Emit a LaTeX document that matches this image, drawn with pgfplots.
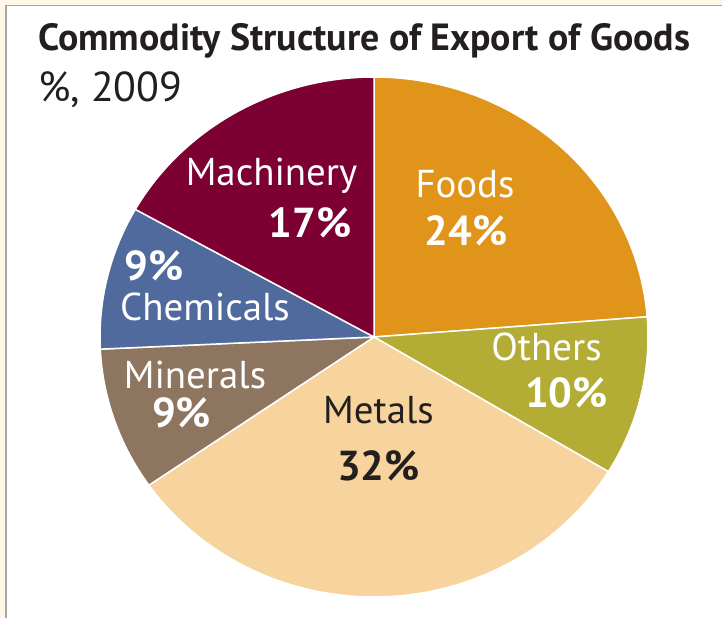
\documentclass[border=0pt]{standalone}
\usepackage{pgfplots}
\usepackage{pgfplotstable}
\pgfplotsset{compat=1.18}
\usepackage{fontspec}
\setmainfont{PT Sans}
\definecolor{cFoods}{HTML}{E0951A}
\definecolor{cOthers}{HTML}{B3AD36}
\definecolor{cMetals}{HTML}{F7D49D}
\definecolor{cMinerals}{HTML}{8D7560}
\definecolor{cChemicals}{HTML}{506A9E}
\definecolor{cMachinery}{HTML}{7D0032}
\definecolor{cream}{HTML}{FFF8E6}
\definecolor{txt}{HTML}{231F20}
\pgfplotstableread{
name value
Foods 24
Others 10
Metals 32
Minerals 9
Chemicals 9
Machinery 17
}\piedata
% cumulative angles (clockwise from 12 o'clock)
\def\pietotal{0}
\pgfplotsforeachungrouped \i in {0,...,5}{%
  \pgfplotstablegetelem{\i}{value}\of{\piedata}%
  \pgfmathsetmacro\pietotal{\pietotal+\pgfplotsretval}%
}
\def\piecum{0}
\pgfplotsforeachungrouped \i in {0,...,5}{%
  \pgfplotstablegetelem{\i}{value}\of{\piedata}%
  \pgfmathsetmacro\tmpS{90-\piecum/\pietotal*360}%
  \pgfmathsetmacro\piecum{\piecum+\pgfplotsretval}%
  \pgfmathsetmacro\tmpE{90-\piecum/\pietotal*360}%
  \expandafter\let\csname pieS\i\endcsname\tmpS
  \expandafter\let\csname pieE\i\endcsname\tmpE
}
\newcommand\piewedge[2]{%
  \fill[fill=#2, draw=white, line width=1.5bp, line join=round] (axis cs:374,337)
    -- ++(\csname pieS#1\endcsname:274bp and 260bp)
    arc[start angle=\csname pieS#1\endcsname, end angle=\csname pieE#1\endcsname, x radius=274bp, y radius=260bp] -- cycle;}
\begin{document}
\begin{tikzpicture}
\begin{axis}[scale only axis, width=722bp, height=618bp,
  xmin=0, xmax=722, ymin=0, ymax=618, y dir=reverse, hide axis, clip=false]
\fill[cream] (axis cs:0,0) rectangle (axis cs:722,5);
\fill[cream] (axis cs:0,0) rectangle (axis cs:5,618);
\draw[gray!70, line width=1.5bp] (axis cs:6,5.5) -- (axis cs:722,5.5);
\draw[gray!70, line width=1.5bp] (axis cs:6,5.5) -- (axis cs:6,618);
\piewedge{0}{cFoods}
\piewedge{1}{cOthers}
\piewedge{2}{cMetals}
\piewedge{3}{cMinerals}
\piewedge{4}{cChemicals}
\piewedge{5}{cMachinery}
\node[anchor=base west, inner sep=0, text=txt, font=\fontsize{38}{42}\selectfont\bfseries] at (axis cs:38,51) {Commodity Structure of Export of Goods};
\node[anchor=base west, inner sep=0, text=txt, font=\fontsize{42}{46}\selectfont] at (axis cs:38,101) {\%, 2009};
\tikzset{lab/.style={anchor=base, inner sep=0, text=white, font=\fontsize{39}{44}\selectfont},
         pct/.style={anchor=base, inner sep=0, text=white, font=\fontsize{42}{46}\selectfont\bfseries}}
\node[lab] at (axis cs:271.5,185) {Machinery};
\node[pct] at (axis cs:310,237) {17\%};
\node[lab] at (axis cs:465,197) {Foods};
\node[pct] at (axis cs:466,245) {24\%};
\node[pct] at (axis cs:154,280) {9\%};
\node[lab] at (axis cs:205,320) {Chemicals};
\node[lab] at (axis cs:195,388) {Minerals};
\node[pct] at (axis cs:181.5,427) {9\%};
\node[lab] at (axis cs:546.5,360) {Others};
\node[pct] at (axis cs:566.5,407) {10\%};
\node[lab, text=txt] at (axis cs:378.5,423) {Metals};
\node[pct, text=txt] at (axis cs:378.5,480) {32\%};
\end{axis}
\pgfresetboundingbox
\useasboundingbox (current axis.south west) rectangle (current axis.north east);
\end{tikzpicture}
\end{document}
